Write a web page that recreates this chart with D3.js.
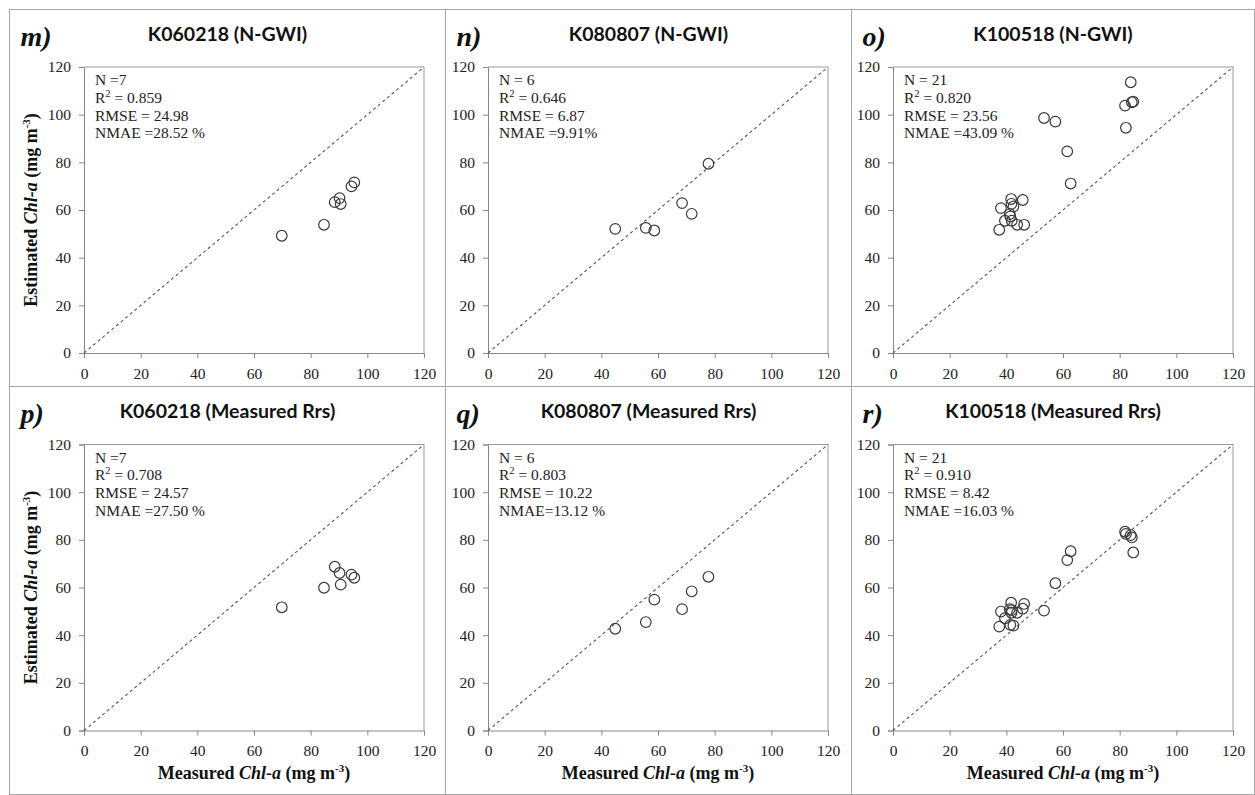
<!DOCTYPE html>
<html>
<head>
<meta charset="utf-8">
<script src="https://cdn.jsdelivr.net/npm/d3@7"></script>
<style>
  html, body { margin: 0; padding: 0; background: #fff; }
  svg { display: block; }
</style>
</head>
<body>
<svg id="chart" width="1255" height="795"></svg>
<script>
// Measured Chl-a per cruise (shared by the N-GWI and measured-Rrs estimates)
const measuredK060218 = [69.8, 84.7, 88.5, 90.2, 90.6, 94.4, 95.4];
const measuredK080807 = [44.9, 55.7, 58.7, 68.5, 71.9, 77.8];
const measuredK100518 = [37.5, 38.1, 39.5, 41.2, 41.4, 41.7, 41.8, 41.9, 42.5, 43.8, 45.8, 46.3,
                         53.3, 57.3, 61.5, 62.7, 81.9, 82.2, 83.9, 84.3, 84.8];

// Estimated Chl-a from N-GWI
const ngwiK060218 = [49.2, 53.8, 63.3, 65.0, 62.5, 69.9, 71.6];
const ngwiK080807 = [52.1, 52.5, 51.4, 62.9, 58.4, 79.4];
const ngwiK100518 = [51.7, 60.8, 55.5, 58.3, 57.3, 64.6, 62.6, 55.5, 61.5, 53.8, 64.2, 53.8,
                     98.6, 97.1, 84.6, 71.1, 103.8, 94.5, 113.6, 105.2, 105.5];

// Estimated Chl-a from measured Rrs
const rrsK060218 = [51.7, 59.9, 68.7, 66.1, 61.2, 65.4, 64.1];
const rrsK080807 = [42.7, 45.5, 54.9, 50.9, 58.4, 64.5];
const rrsK100518 = [43.6, 49.9, 47.1, 50.9, 44.3, 53.6, 49.4, 50.5, 44.0, 49.4, 51.1, 53.1,
                    50.3, 61.8, 71.5, 75.2, 83.4, 82.5, 82.0, 81.0, 74.7];

// Axis ticks
const tickValues = [0, 20, 40, 60, 80, 100, 120];

// Panel letters, titles and statistics
const panelLetters = ["m)", "n)", "o)", "p)", "q)", "r)"];
const panelTitles = ["K060218 (N-GWI)", "K080807 (N-GWI)", "K100518 (N-GWI)",
                     "K060218 (Measured Rrs)", "K080807 (Measured Rrs)", "K100518 (Measured Rrs)"];
const statN    = ["N =7", "N = 6", "N = 21", "N =7", "N = 6", "N = 21"];
const statR2   = ["0.859", "0.646", "0.820", "0.708", "0.803", "0.910"];
const statRMSE = ["RMSE = 24.98", "RMSE = 6.87", "RMSE = 23.56", "RMSE = 24.57", "RMSE = 10.22", "RMSE = 8.42"];
const statNMAE = ["NMAE =28.52 %", "NMAE =9.91%", "NMAE =43.09 %", "NMAE =27.50 %", "NMAE=13.12 %", "NMAE =16.03 %"];

const panelData = [
  [measuredK060218, ngwiK060218], [measuredK080807, ngwiK080807], [measuredK100518, ngwiK100518],
  [measuredK060218, rrsK060218],  [measuredK080807, rrsK080807],  [measuredK100518, rrsK100518]
];

const svg = d3.select("#chart");
const serif = "'Liberation Serif', 'Times New Roman', serif";
const sans = "Lato, 'Open Sans', sans-serif";

// Panel frames
const colEdges = [9.5, 445.5, 851.5, 1254.5];
const rowEdges = [9.5, 386.5, 794.5];
const frameColor = "#a6a6a6";
svg.append("rect")
  .attr("x", colEdges[0]).attr("y", rowEdges[0])
  .attr("width", colEdges[3] - colEdges[0]).attr("height", rowEdges[2] - rowEdges[0])
  .attr("fill", "none").attr("stroke", frameColor);
[colEdges[1], colEdges[2]].forEach(x => svg.append("line")
  .attr("x1", x).attr("x2", x).attr("y1", rowEdges[0]).attr("y2", rowEdges[2])
  .attr("stroke", frameColor));
svg.append("line").attr("x1", colEdges[0]).attr("x2", colEdges[3])
  .attr("y1", rowEdges[1]).attr("y2", rowEdges[1]).attr("stroke", frameColor);

const plotLeft = [84, 488, 893];
const plotBottom = [353, 730.5];
const plotW = 340, plotH = 286;

panelData.forEach((d, i) => {
  const col = i % 3, row = Math.floor(i / 3);
  const x0 = plotLeft[col], y0 = plotBottom[row];
  const x = d3.scaleLinear().domain([0, 120]).range([x0, x0 + plotW]);
  const y = d3.scaleLinear().domain([0, 120]).range([y0, y0 - plotH]);
  const g = svg.append("g");

  // panel letter and title
  g.append("text")
    .attr("x", colEdges[col] + 11).attr("y", rowEdges[row] + 36)
    .attr("font-family", serif).attr("font-weight", "bold").attr("font-style", "italic")
    .attr("font-size", 28).attr("fill", "#111").text(panelLetters[i]);
  g.append("text")
    .attr("x", (colEdges[col] + colEdges[col + 1]) / 2).attr("y", rowEdges[row] + 31.5)
    .attr("text-anchor", "middle")
    .attr("font-family", sans).attr("font-weight", "bold")
    .attr("font-size", 19.5).attr("fill", "#111").text(panelTitles[i]);

  // axes
  const xAxis = d3.axisBottom(x).tickValues(tickValues).tickSize(5).tickPadding(6);
  const yAxis = d3.axisLeft(y).tickValues(tickValues).tickSize(5).tickPadding(8);
  const gx = g.append("g").attr("transform", `translate(0,${y0})`).call(xAxis);
  const gy = g.append("g").attr("transform", `translate(${x0},0)`).call(yAxis);
  [gx, gy].forEach(a => {
    a.select(".domain").attr("stroke", "#868686");
    a.selectAll(".tick line").attr("stroke", "#868686");
    a.selectAll(".tick text").attr("font-family", serif).attr("font-size", 15.5).attr("fill", "#222");
  });
  gx.selectAll(".tick text").attr("dy", "0.95em");

  // top and right edges of the plot frame
  g.append("path")
    .attr("d", `M${x0},${y(120)}H${x(120)}V${y0}`)
    .attr("fill", "none").attr("stroke", "#9a9a9a");

  // 1:1 line
  g.append("line")
    .attr("x1", x(0)).attr("y1", y(0)).attr("x2", x(120)).attr("y2", y(120))
    .attr("stroke", "#555").attr("stroke-width", 1.1).attr("stroke-dasharray", "3,3");

  // observations
  g.append("g").selectAll("circle")
    .data(d[0].map((m, k) => [m, d[1][k]]))
    .join("circle")
    .attr("cx", p => x(p[0])).attr("cy", p => y(p[1])).attr("r", 5.3)
    .attr("fill", "none").attr("stroke", "#3a3a3a").attr("stroke-width", 1.2);

  // statistics block
  const st = g.append("g").attr("font-family", serif).attr("font-size", 15.5).attr("fill", "#222");
  const sx = x0 + 11, sy = y(120) + 18;
  st.append("text").attr("x", sx).attr("y", sy).text(statN[i]);
  const r2 = st.append("text").attr("x", sx).attr("y", sy + 17.8);
  r2.append("tspan").text("R");
  r2.append("tspan").attr("dy", -6).attr("font-size", 10.5).text("2");
  r2.append("tspan").attr("dy", 6).text(" = " + statR2[i]);
  st.append("text").attr("x", sx).attr("y", sy + 35.6).text(statRMSE[i]);
  st.append("text").attr("x", sx).attr("y", sy + 53.4).text(statNMAE[i]);

  // axis titles
  if (col === 0) {
    const yt = g.append("text")
      .attr("transform", `translate(${x0 - 47},${y0 - plotH / 2}) rotate(-90)`)
      .attr("text-anchor", "middle")
      .attr("font-family", serif).attr("font-weight", "bold").attr("font-size", 18).attr("fill", "#111");
    yt.append("tspan").text("Estimated ");
    yt.append("tspan").attr("font-style", "italic").text("Chl-a");
    yt.append("tspan").text(" (mg m");
    yt.append("tspan").attr("dy", -7).attr("font-size", 11).text("-3");
    yt.append("tspan").attr("dy", 7).text(")");
  }
  if (row === 1) {
    const xt = g.append("text")
      .attr("x", x0 + plotW / 2).attr("y", y0 + 48)
      .attr("text-anchor", "middle")
      .attr("font-family", serif).attr("font-weight", "bold").attr("font-size", 18).attr("fill", "#111");
    xt.append("tspan").text("Measured ");
    xt.append("tspan").attr("font-style", "italic").text("Chl-a");
    xt.append("tspan").text(" (mg m");
    xt.append("tspan").attr("dy", -7).attr("font-size", 11).text("-3");
    xt.append("tspan").attr("dy", 7).text(")");
  }
});
</script>
</body>
</html>
